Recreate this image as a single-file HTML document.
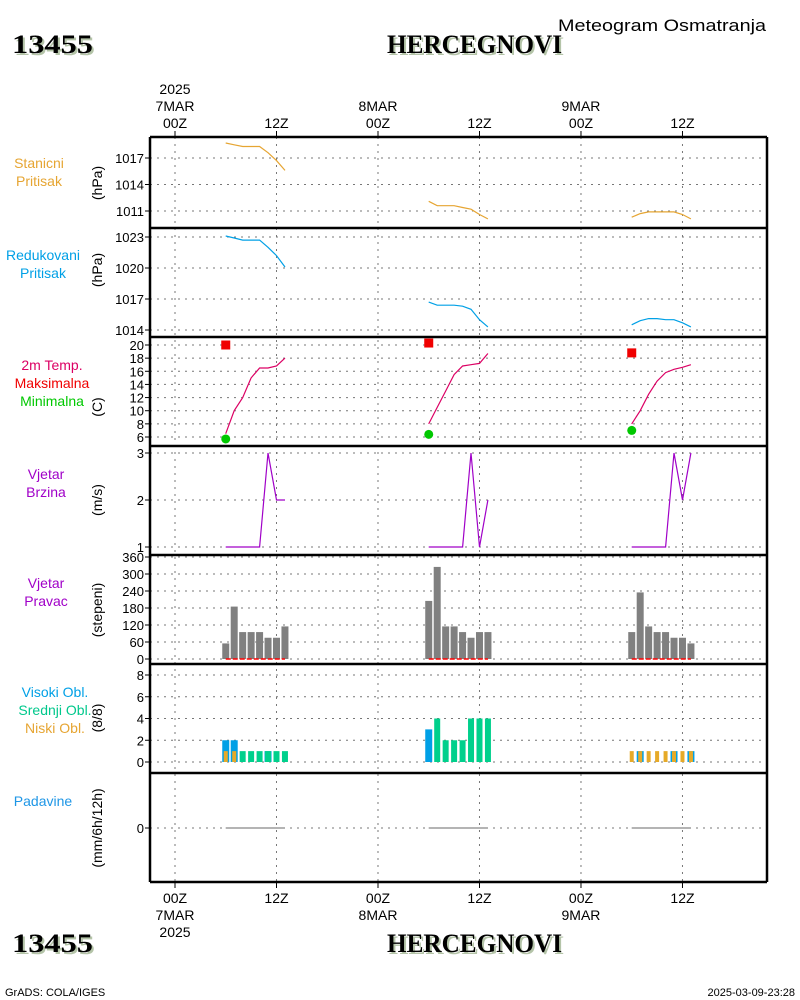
<!DOCTYPE html>
<html><head><meta charset="utf-8"><style>
body{margin:0;background:#fff;}
svg{display:block;font-family:"Liberation Sans",sans-serif;}
</style></head><body>
<svg id="chart" width="800" height="1000" viewBox="0 0 800 1000" xmlns="http://www.w3.org/2000/svg">
<g>
<text x="14" y="55" textLength="81" lengthAdjust="spacingAndGlyphs" font-family="Liberation Serif,serif" font-weight="bold" font-size="26" fill="#b4c4a8">13455</text>
<text x="12" y="53" textLength="81" lengthAdjust="spacingAndGlyphs" font-family="Liberation Serif,serif" font-weight="bold" font-size="26" fill="#000">13455</text>
<text x="389" y="55" textLength="175" lengthAdjust="spacingAndGlyphs" font-family="Liberation Serif,serif" font-weight="bold" font-size="26" fill="#b4c4a8">HERCEGNOVI</text>
<text x="387" y="53" textLength="175" lengthAdjust="spacingAndGlyphs" font-family="Liberation Serif,serif" font-weight="bold" font-size="26" fill="#000">HERCEGNOVI</text>
<text x="558" y="31" textLength="208" lengthAdjust="spacingAndGlyphs" font-size="17" fill="#000">Meteogram Osmatranja</text>
<text x="14" y="954" textLength="81" lengthAdjust="spacingAndGlyphs" font-family="Liberation Serif,serif" font-weight="bold" font-size="26" fill="#b4c4a8">13455</text>
<text x="12" y="952" textLength="81" lengthAdjust="spacingAndGlyphs" font-family="Liberation Serif,serif" font-weight="bold" font-size="26" fill="#000">13455</text>
<text x="389" y="954" textLength="175" lengthAdjust="spacingAndGlyphs" font-family="Liberation Serif,serif" font-weight="bold" font-size="26" fill="#b4c4a8">HERCEGNOVI</text>
<text x="387" y="952" textLength="175" lengthAdjust="spacingAndGlyphs" font-family="Liberation Serif,serif" font-weight="bold" font-size="26" fill="#000">HERCEGNOVI</text>
<text x="5" y="996" font-size="11" fill="#000">GrADS: COLA/IGES</text>
<text x="795" y="996" text-anchor="end" font-size="11" fill="#000">2025-03-09-23:28</text>
</g>
<g id="grid"></g>
<g id="marks"></g>
<g id="frames"></g>
<g id="labels"></g>
</svg>
<script>
// ---- data ----
var hoursD1 = [6,7,8,9,10,11,12,13];
var hoursD2 = [30,31,32,33,34,35,36,37];
var hoursD3 = [54,55,56,57,58,59,60,61];
var stanD1 = [1018.7,1018.5,1018.3,1018.3,1018.3,1017.6,1016.7,1015.6];
var stanD2 = [1012.1,1011.6,1011.6,1011.6,1011.4,1011.2,1010.6,1010.1];
var stanD3 = [1010.3,1010.7,1010.9,1010.9,1010.9,1010.9,1010.6,1010.1];
var redD1 = [1023.1,1022.9,1022.7,1022.7,1022.7,1022.0,1021.2,1020.1];
var redD2 = [1016.7,1016.4,1016.4,1016.4,1016.3,1016.0,1015.0,1014.3];
var redD3 = [1014.5,1014.9,1015.1,1015.1,1015.0,1015.0,1014.7,1014.3];
var tempD1 = [6.5,10,12,15,16.5,16.5,16.8,18];
var tempD2 = [8,10.5,13,15.5,16.8,17,17.2,18.7];
var tempD3 = [8,10,12.5,14.5,15.8,16.3,16.6,17];
var tmaxHours = [6,30,54];
var tmaxVals = [20,20.3,18.8];
var tminVals = [5.7,6.4,7.0];
var wsD1 = [1,1,1,1,1,3,2,2];
var wsD2 = [1,1,1,1,1,3,1,2];
var wsD3 = [1,1,1,1,1,3,2,3];
var wdD1 = [55,185,95,95,95,75,75,115];
var wdD2 = [205,325,115,115,95,75,95,95];
var wdD3 = [95,235,115,95,95,75,75,55];
var highD1 = [2,2,0,0,0,1,0,0], midD1 = [0,0,1,1,1,1,1,1], lowD1 = [1,1,0,0,0,0,0,0];
var highD2 = [3,0,0,0,0,0,0,0], midD2 = [0,4,2,2,2,4,4,4], lowD2 = [0,0,0,0,0,0,0,0];
var highD3 = [0,1,0,0,0,1,0,1], midD3 = [0,0,0,0,0,0,0,0], lowD3 = [1,1,1,1,1,1,1,1];
var precD1 = [0,0,0,0,0,0,0,0], precD2 = [0,0,0,0,0,0,0,0], precD3 = [0,0,0,0,0,0,0,0];
var stanTicks = [1011,1014,1017];
var redTicks = [1014,1017,1020,1023];
var tempTicks = [6,8,10,12,14,16,18,20];
var wsTicks = [1,2,3];
var wdTicks = [0,60,120,180,240,300,360];
var cloudTicks = [0,2,4,6,8];
var precTicks = [0];
var timeTicks = [0,12,24,36,48,60];
var timeLabels = ["00Z","12Z","00Z","12Z","00Z","12Z"];

// ---- axes ----
var NS="http://www.w3.org/2000/svg";
function X(h){return 175 + h*8.458;}
function lin(v0,y0,v1,y1){return function(v){return y0+(v-v0)*(y1-y0)/(v1-v0);};}
var yStan = lin(1017,158,1011,211);
var yRed = lin(1023,237,1014,330);
var yTemp = lin(20,345,6,437);
var yWs = lin(3,453,1,547);
var yWd = lin(0,659,360,557);
var yCl = lin(0,762,8,675);
var yPr = lin(0,828,1,818);
var L=150,R=767;
var tops=[137,228,337,446,555,664,773,882];
function el(parent,tag,attrs){var e=document.createElementNS(NS,tag);for(var k in attrs)e.setAttribute(k,attrs[k]);document.getElementById(parent).appendChild(e);return e;}
function txt(parent,x,y,s,attrs){var e=el(parent,'text',Object.assign({x:x,y:y},attrs||{}));e.textContent=s;return e;}

timeTicks.forEach(function(h){
  var g=el('grid','line',{x1:X(h),x2:X(h),y1:137,y2:882,stroke:'#777','stroke-dasharray':'2,5'});
  
  
  el('frames','line',{x1:X(h),x2:X(h),y1:131,y2:137,stroke:'#000','stroke-width':1});
  el('frames','line',{x1:X(h),x2:X(h),y1:882,y2:888,stroke:'#000','stroke-width':1});
});
timeTicks.forEach(function(h,i){
  var t=txt('labels',X(h),128,timeLabels[i],{'text-anchor':'middle','font-size':14,fill:'#000'});
  
  
  var b=txt('labels',X(h),903,timeLabels[i],{'text-anchor':'middle','font-size':14,fill:'#000'});
  
  
});
txt('labels',X(0),94,'2025',{'text-anchor':'middle','font-size':14});
txt('labels',X(0),111,'7MAR',{'text-anchor':'middle','font-size':14});
txt('labels',X(24),111,'8MAR',{'text-anchor':'middle','font-size':14});
txt('labels',X(48),111,'9MAR',{'text-anchor':'middle','font-size':14});
txt('labels',X(0),920,'7MAR',{'text-anchor':'middle','font-size':14});
txt('labels',X(0),937,'2025',{'text-anchor':'middle','font-size':14});
txt('labels',X(24),920,'8MAR',{'text-anchor':'middle','font-size':14});
txt('labels',X(48),920,'9MAR',{'text-anchor':'middle','font-size':14});

function yticks(ticks,fy,name){
  ticks.forEach(function(v){
    var y=fy(v);
    var g=el('grid','line',{x1:L,x2:R,y1:y,y2:y,stroke:'#777','stroke-dasharray':'2,5'});
    
    
    el('frames','line',{x1:L-5,x2:L,y1:y,y2:y,stroke:'#000'});
    var t=txt('labels',L-6,y+5,String(v),{'text-anchor':'end','font-size':13});
    
    
  });
}
yticks(stanTicks,yStan,'station-pressure');
yticks(redTicks,yRed,'reduced-pressure');
yticks(tempTicks,yTemp,'temperature');
yticks(wsTicks,yWs,'wind-speed');
yticks(wdTicks,yWd,'wind-direction');
yticks(cloudTicks,yCl,'cloud-cover');
yticks(precTicks,yPr,'precipitation');

for(var i=0;i<tops.length;i++){el('frames','line',{x1:L,x2:R,y1:tops[i],y2:tops[i],stroke:'#000','stroke-width':2.5});}
el('frames','line',{x1:L,x2:L,y1:137,y2:882,stroke:'#000','stroke-width':2.5});
el('frames','line',{x1:R,x2:R,y1:137,y2:882,stroke:'#000','stroke-width':2.5});

function unit(s,y){var t=txt('labels',0,0,s,{'text-anchor':'middle','font-size':14,transform:'translate(102,'+y+') rotate(-90)'});
  
  }
unit('(hPa)',183);unit('(hPa)',270);unit('(C)',407);unit('(m/s)',500);unit('(stepeni)',610);unit('(8/8)',718);unit('(mm/6h/12h)',828);

function plab(lines,cx,y0){lines.forEach(function(l,i){var t=txt('labels',cx,y0+i*18,l[0],{'text-anchor':'middle','font-size':14,fill:l[1]});
  
  });}
plab([['Stanicni','#e6a532'],['Pritisak','#e6a532']],39,168);
plab([['Redukovani','#00a0e6'],['Pritisak','#00a0e6']],43,260);
plab([['2m Temp.','#dc0064'],['Maksimalna','#f00000'],['Minimalna','#00c800']],52,370);
plab([['Vjetar','#a000c8'],['Brzina','#a000c8']],46,479);
plab([['Vjetar','#a000c8'],['Pravac','#a000c8']],46,588);
plab([['Visoki Obl.','#00a0e6'],['Srednji Obl.','#00c88c'],['Niski Obl.','#e6a532']],55,697);
plab([['Padavine','#1e96e6']],43,806);

function line(hours,vals,fy,color,name){
  var pts=hours.map(function(h,i){return X(h).toFixed(1)+','+fy(vals[i]).toFixed(1);}).join(' ');
  var p=el('marks','polyline',{points:pts,fill:'none',stroke:color,'stroke-width':1.2});
  
  
}
var days=[hoursD1,hoursD2,hoursD3];
[stanD1,stanD2,stanD3].forEach(function(v,i){line(days[i],v,yStan,'#e6a532','station-pressure-line');});
[redD1,redD2,redD3].forEach(function(v,i){line(days[i],v,yRed,'#00a0e6','reduced-pressure-line');});
[tempD1,tempD2,tempD3].forEach(function(v,i){line(days[i],v,yTemp,'#dc0064','temperature-line');});
[wsD1,wsD2,wsD3].forEach(function(v,i){line(days[i],v,yWs,'#a000c8','wind-speed-line');});
[precD1,precD2,precD3].forEach(function(v,i){line(days[i],v,yPr,'#888','precipitation-line');});
tmaxHours.forEach(function(h,i){
  var r=el('marks','rect',{x:X(h)-4.5,y:yTemp(tmaxVals[i])-4.5,width:9,height:9,fill:'#f00000'});
  
  
  var c=el('marks','circle',{cx:X(h),cy:yTemp(tminVals[i]),r:4.5,fill:'#00c800'});
  
  
});
[wdD1,wdD2,wdD3].forEach(function(v,d){
  days[d].forEach(function(h,i){
    var r=el('marks','rect',{x:X(h)-3.5,y:yWd(v[i]),width:7,height:yWd(0)-yWd(v[i]),fill:'#808080'});
    
    
  });
  var ln=el('marks','line',{x1:X(days[d][0]),x2:X(days[d][7]),y1:yWd(0),y2:yWd(0),stroke:'#f00','stroke-width':1.5,'stroke-dasharray':'5,2'});
  
  
});
var highs=[highD1,highD2,highD3],mids=[midD1,midD2,midD3],lows=[lowD1,lowD2,lowD3];
days.forEach(function(hs,d){
  hs.forEach(function(h,i){
    var hv=highs[d][i],mv=mids[d][i],lv=lows[d][i];
    if(hv>0){var r=el('marks','rect',{x:X(h)-3.5,y:yCl(hv),width:7,height:yCl(0)-yCl(hv),fill:'#00a0e6'});
      
      }
    if(mv>0){var r2=el('marks','rect',{x:X(h)-3,y:yCl(mv),width:6,height:yCl(0)-yCl(mv),fill:'#00d08c'});
      
      }
    if(lv>0){var r3=el('marks','rect',{x:X(h)-2,y:yCl(lv),width:4,height:yCl(0)-yCl(lv),fill:'#e6aa28'});
      
      }
  });
});
</script>
</body></html>
